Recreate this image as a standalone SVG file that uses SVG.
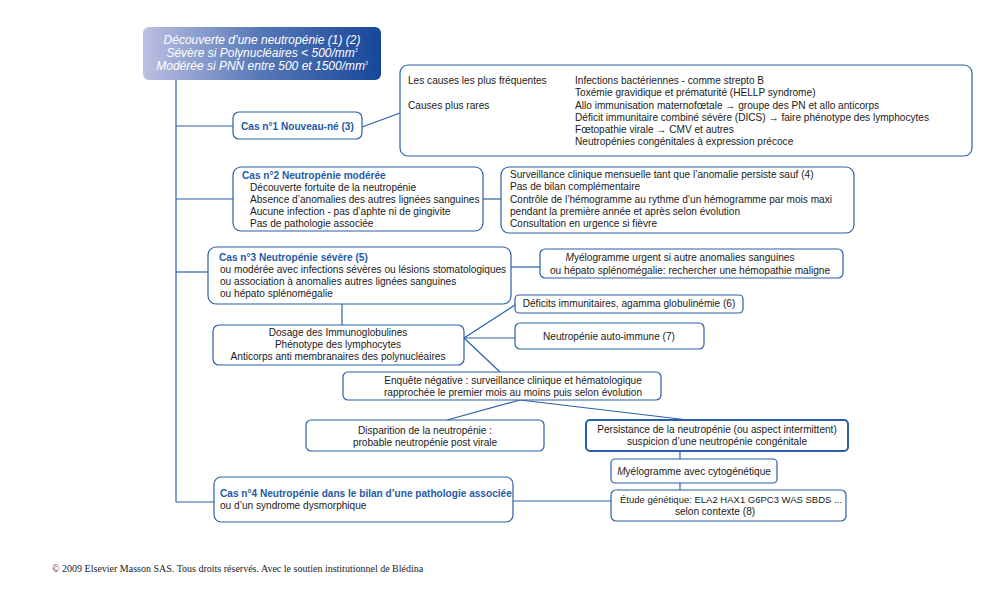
<svg xmlns="http://www.w3.org/2000/svg" width="1000" height="600" viewBox="0 0 1000 600">
<defs>
<linearGradient id="hg" x1="0" y1="0" x2="1" y2="0">
<stop offset="0" stop-color="#bcc0e2"/>
<stop offset="0.5" stop-color="#5577b6"/>
<stop offset="1" stop-color="#17479a"/>
</linearGradient>
<style>
.box{fill:#fff;stroke:#2b5fa8;stroke-width:1.2}
.ln{stroke:#2b5fa8;stroke-width:1.2;fill:none}
text{font-family:"Liberation Sans",Arial,sans-serif;font-size:10.1px;fill:#1a1a1a}
.t{font-weight:bold;fill:#1f5aa6}
.h{font-size:12px;font-style:italic;fill:#fff;text-anchor:middle}
.c{text-anchor:middle}
.cp{font-family:"Liberation Serif","Times New Roman",serif;font-size:10px;fill:#222}
</style>
</defs>
<rect width="1000" height="600" fill="#fff"/>

<g id="connectors">
<path class="ln" d="M176 80 V502"/>
<path class="ln" d="M176 126 H233"/>
<path class="ln" d="M362 127 L400 113"/>
<path class="ln" d="M176 199 H233"/>
<path class="ln" d="M483 199 H501"/>
<path class="ln" d="M176 272 H208"/>
<path class="ln" d="M511 267 H540"/>
<path class="ln" d="M342 304 V325"/>
<path class="ln" d="M464 338 L515 305"/>
<path class="ln" d="M464 338 H515"/>
<path class="ln" d="M464 338 L500 372"/>
<path class="ln" d="M520 400 L447 420"/>
<path class="ln" d="M520 400 L688 420"/>
<path class="ln" d="M680 451 V459"/>
<path class="ln" d="M680 483 V490"/>
<path class="ln" d="M176 502 H214"/>
<path class="ln" d="M513 501 H611"/>
</g>

<g id="header">
<rect x="143" y="27" width="238" height="53" rx="6" fill="url(#hg)"/>
<text class="h" x="262" y="44">Découverte d’une neutropénie (1) (2)</text>
<text class="h" x="262" y="57">Sévère si Polynucléaires &lt; 500/mm<tspan font-size="5" dy="-5">3</tspan></text>
<text class="h" x="262" y="70">Modérée si PNN entre 500 et 1500/mm<tspan font-size="5" dy="-5">3</tspan></text>
</g>

<g id="cas1">
<rect class="box" x="233" y="112" width="129" height="27" rx="6"/>
<text class="t" x="241" y="130">Cas n°1 Nouveau-né (3)</text>
</g>

<g id="causes">
<rect class="box" x="400" y="65" width="572" height="91" rx="8"/>
<text x="408" y="84">Les causes les plus fréquentes</text>
<text x="408" y="109">Causes plus rares</text>
<text x="575" y="84">Infections bactériennes - comme strepto B</text>
<text x="575" y="96">Toxémie gravidique et prématurité (HELLP syndrome)</text>
<text x="575" y="109">Allo immunisation maternofœtale → groupe des PN et allo anticorps</text>
<text x="575" y="121">Déficit immunitaire combiné sévère (DICS) → faire phénotype des lymphocytes</text>
<text x="575" y="133">Fœtopathie virale → CMV et autres</text>
<text x="575" y="145">Neutropénies congénitales à expression précoce</text>
</g>

<g id="cas2">
<rect class="box" x="233" y="167" width="250" height="64" rx="8"/>
<text class="t" x="242" y="179">Cas n°2  Neutropénie modérée</text>
<text x="250" y="191">Découverte fortuite de la neutropénie</text>
<text x="250" y="203">Absence d’anomalies des autres lignées sanguines</text>
<text x="250" y="215">Aucune infection - pas d’aphte ni de gingivite</text>
<text x="250" y="227">Pas de pathologie associée</text>
</g>

<g id="surveillance">
<rect class="box" x="501" y="167" width="353" height="66" rx="8"/>
<text x="510" y="178">Surveillance clinique mensuelle tant  que l’anomalie persiste sauf (4)</text>
<text x="510" y="190">Pas de bilan complémentaire</text>
<text x="510" y="203">Contrôle de l’hémogramme au rythme d’un hémogramme par mois maxi</text>
<text x="510" y="215">pendant la première année et après selon évolution</text>
<text x="510" y="227">Consultation en urgence si fièvre</text>
</g>

<g id="cas3">
<rect class="box" x="208" y="247" width="303" height="57" rx="8"/>
<text class="t" x="219" y="261">Cas n°3  Neutropénie sévère (5)</text>
<text x="220" y="273">ou modérée avec infections sévères ou lésions stomatologiques</text>
<text x="220" y="285">ou association à anomalies autres lignées sanguines</text>
<text x="220" y="297">ou hépato splénomégalie</text>
</g>

<g id="myelo-urgent">
<rect class="box" x="540" y="249" width="303" height="29" rx="5"/>
<text class="c" x="680" y="261"><tspan font-style="italic">M</tspan>yélogramme urgent si autre anomalies sanguines</text>
<text class="c" x="690" y="274">ou hépato splénomégalie: rechercher une hémopathie maligne</text>
</g>

<g id="dosage">
<rect class="box" x="213" y="325" width="251" height="40" rx="6"/>
<text class="c" x="338" y="336">Dosage des Immunoglobulines</text>
<text class="c" x="338" y="348">Phénotype des lymphocytes</text>
<text class="c" x="338" y="360">Anticorps anti membranaires des polynucléaires</text>
</g>

<g id="deficits">
<rect class="box" x="515" y="295" width="228" height="18" rx="4"/>
<text class="c" x="629" y="307">Déficits immunitaires, agamma globulinémie (6)</text>
</g>

<g id="autoimmune">
<rect class="box" x="515" y="323" width="189" height="26" rx="5"/>
<text class="c" x="609" y="340">Neutropénie auto-immune (7)</text>
</g>

<g id="enquete">
<rect class="box" x="343" y="372" width="318" height="28" rx="5"/>
<text class="c" x="513" y="384">Enquête négative : surveillance clinique et hématologique</text>
<text class="c" x="513" y="396">rapprochée le premier mois au moins puis selon évolution</text>
</g>

<g id="disparition">
<rect class="box" x="306" y="420" width="238" height="31" rx="5"/>
<text class="c" x="425" y="434">Disparition de la neutropénie :</text>
<text class="c" x="425" y="446">probable neutropénie post virale</text>
</g>

<g id="persistance">
<rect class="box" x="586" y="420" width="262" height="31" rx="4" style="stroke-width:2"/>
<text class="c" x="717" y="433">Persistance de la neutropénie (ou aspect intermittent)</text>
<text class="c" x="717" y="445">suspicion d’une neutropénie congénitale</text>
</g>

<g id="myelo-cyto">
<rect class="box" x="611" y="459" width="166" height="24" rx="4"/>
<text class="c" x="694" y="475"><tspan font-style="italic">M</tspan>yélogramme avec cytogénétique</text>
</g>

<g id="etude">
<rect class="box" x="611" y="490" width="235" height="31" rx="5"/>
<text x="620" y="503" style="font-size:9.5px">Étude génétique: ELA2 HAX1 G6PC3 WAS SBDS ...</text>
<text class="c" x="715" y="515">selon contexte (8)</text>
</g>

<g id="cas4">
<rect class="box" x="214" y="477" width="299" height="45" rx="7"/>
<text class="t" x="220" y="497">Cas n°4  Neutropénie dans le bilan d’une pathologie associée</text>
<text x="220" y="509">ou d’un syndrome dysmorphique</text>
</g>

<text class="cp" x="52" y="572">© 2009 Elsevier Masson SAS. Tous droits réservés. Avec le soutien institutionnel de Blédina</text>
</svg>
